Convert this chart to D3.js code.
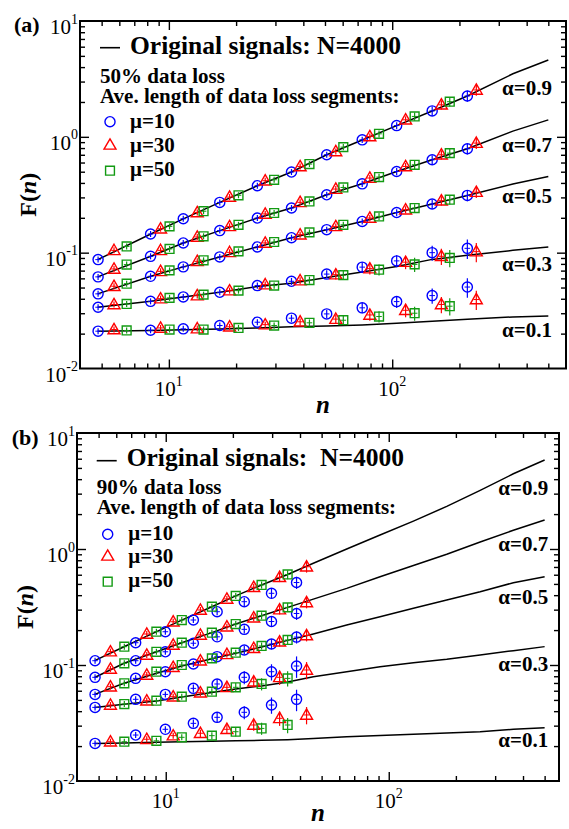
<!DOCTYPE html>
<html><head><meta charset="utf-8">
<script src="https://cdn.jsdelivr.net/npm/d3@7"></script>
<style>
body{margin:0;background:#fff;}
svg text{font-family:"Liberation Serif","Times New Roman",serif;}
</style></head><body>
<svg id="c" width="569" height="829"></svg>
<script>
// ---------- labels ----------
const alphaLabels = ["α=0.9","α=0.7","α=0.5","α=0.3","α=0.1"];
const muLabels = ["μ=10","μ=30","μ=50"];
const xMajorTicks = [10, 100];
const xMajorExp = ["1","2"];
const yMajorTicks = [0.01, 0.1, 1, 10];
const yMajorExp = ["-2","-1","0","1"];

// ---------- panel (a): 50% data loss ----------
const nA10 = [4.82, 8.28, 11.6, 16.9, 24.9, 35.4, 50.9, 73.4, 104.7, 151, 217];
const nA30 = [5.68, 9.18, 13.4, 18.7, 27.0, 38.7, 55.9, 79.4, 114.8, 166, 238];
const nA50 = [6.47, 10.07, 14.3, 20.5, 29.6, 42.6, 60.4, 87.3, 126, 181];

const FA10_09 = [0.0871, 0.1449, 0.1963, 0.2716, 0.3784, 0.4966, 0.700, 0.942, 1.251, 1.675, 2.253];
const FA10_07 = [0.0618, 0.093, 0.1213, 0.155, 0.199, 0.243, 0.316, 0.393, 0.502, 0.634, 0.789];
const FA10_05 = [0.0441, 0.0625, 0.0754, 0.0919, 0.112, 0.1346, 0.158, 0.186, 0.222, 0.263, 0.312];
const FA10_03 = [0.0338, 0.038, 0.0415, 0.0455, 0.052, 0.0566, 0.0653, 0.075, 0.0849, 0.100, 0.109];
const FA10_01 = [0.0210, 0.0214, 0.0220, 0.0235, 0.0251, 0.0272, 0.0296, 0.0334, 0.0378, 0.0426, 0.0505];

const FA30_09 = [0.1047, 0.161, 0.222, 0.302, 0.418, 0.555, 0.747, 1.006, 1.403, 1.89, 2.54];
const FA30_07 = [0.0723, 0.1047, 0.1366, 0.1685, 0.216, 0.272, 0.354, 0.441, 0.555, 0.700, 0.883];
const FA30_05 = [0.0513, 0.069, 0.0842, 0.1006, 0.1213, 0.143, 0.1685, 0.199, 0.235, 0.281, 0.333];
const FA30_03 = [0.0357, 0.0401, 0.0426, 0.047, 0.053, 0.0574, 0.0646, 0.0728, 0.0828, 0.093, 0.102];
const FA30_01 = [0.0217, 0.0224, 0.0221, 0.0229, 0.0239, 0.0253, 0.0267, 0.029, 0.0318, 0.0357, 0.0394];

const FA50_09 = [0.1132, 0.1686, 0.228, 0.313, 0.426, 0.582, 0.815, 1.062, 1.50, 2.01];
const FA50_07 = [0.0789, 0.1077, 0.1384, 0.174, 0.220, 0.2767, 0.3654, 0.4497, 0.574, 0.723];
const FA50_05 = [0.054, 0.0703, 0.0859, 0.1026, 0.1236, 0.1496, 0.174, 0.2055, 0.2426, 0.2864];
const FA50_03 = [0.0361, 0.0407, 0.0434, 0.047, 0.052, 0.058, 0.064, 0.0713, 0.0792, 0.090];
const FA50_01 = [0.0213, 0.0217, 0.0217, 0.0224, 0.0235, 0.0248, 0.0261, 0.0281, 0.030, 0.0345];

// relative error bars (upper rows alpha 0.9-0.5, lower rows alpha 0.3-0.1)
const errA10_hi = [0.02,0.02,0.03,0.03,0.04,0.04,0.05,0.06,0.07,0.09,0.11];
const errA10_lo = [0.02,0.03,0.04,0.05,0.06,0.07,0.08,0.10,0.12,0.15,0.19];
const errA30_hi = [0.02,0.02,0.03,0.03,0.04,0.04,0.05,0.06,0.07,0.09,0.11];
const errA30_lo = [0.02,0.03,0.04,0.05,0.06,0.07,0.09,0.11,0.13,0.16,0.19];
const errA50_hi = [0.02,0.02,0.03,0.03,0.04,0.05,0.06,0.07,0.08,0.09];
const errA50_lo = [0.02,0.03,0.04,0.05,0.06,0.07,0.09,0.11,0.14,0.17];

// original signals (N=4000), panel (a)
const lineA_n  = [4.8, 8.3, 11.6, 16.9, 24.9, 35.4, 50.9, 73.4, 104.7, 151, 217, 347, 500];
const lineA_09 = [0.087, 0.145, 0.196, 0.272, 0.378, 0.497, 0.70, 0.94, 1.25, 1.67, 2.25, 3.5, 4.6];
const lineA_07 = [0.0618, 0.093, 0.121, 0.155, 0.199, 0.243, 0.316, 0.393, 0.502, 0.634, 0.789, 1.12, 1.40];
const lineA_05 = [0.0441, 0.0625, 0.0754, 0.0919, 0.112, 0.1346, 0.158, 0.186, 0.222, 0.263, 0.312, 0.391, 0.455];
const lineA_03 = [0.0338, 0.038, 0.0415, 0.0455, 0.051, 0.0545, 0.061, 0.068, 0.076, 0.0875, 0.095, 0.1047, 0.112];
const lineA_01 = [0.021, 0.0213, 0.0216, 0.0219, 0.0224, 0.0229, 0.0233, 0.0238, 0.0246, 0.0256, 0.0266, 0.0279, 0.0284];

// ---------- panel (b): 90% data loss ----------
const nB10 = [4.82, 7.33, 9.96, 13.3, 17.0, 22.5, 29.8, 38.6];
const nB30 = [5.65, 8.22, 10.8, 14.3, 18.8, 24.8, 32.4, 42.8];
const nB50 = [6.52, 9.08, 11.8, 16.1, 20.6, 26.9, 35.2];

const FB10_09 = [0.1089, 0.1556, 0.1935, 0.2443, 0.288, 0.3513, 0.415, 0.514];
const FB10_07 = [0.0783, 0.1089, 0.130, 0.154, 0.175, 0.203, 0.237, 0.278];
const FB10_05 = [0.0558, 0.0767, 0.0875, 0.102, 0.118, 0.1347, 0.1518, 0.174];
const FB10_03 = [0.0431, 0.0506, 0.0558, 0.0629, 0.0686, 0.0783, 0.0875, 0.098];
const FB10_01 = [0.0211, 0.0249, 0.0279, 0.0314, 0.0354, 0.0391, 0.0452, 0.0506];

const FB30_09 = [0.1303, 0.185, 0.236, 0.298, 0.371, 0.468, 0.570, 0.703];
const FB30_07 = [0.0925, 0.122, 0.1486, 0.1814, 0.2138, 0.2557, 0.300, 0.346];
const FB30_05 = [0.065, 0.082, 0.0955, 0.1089, 0.1236, 0.1393, 0.1588, 0.1795];
const FB30_03 = [0.0452, 0.0492, 0.0533, 0.0577, 0.0642, 0.0718, 0.0783, 0.0906];
const FB30_01 = [0.0218, 0.0229, 0.0246, 0.0258, 0.0279, 0.0304, 0.0347, 0.0371];

const FB50_09 = [0.1438, 0.1936, 0.244, 0.318, 0.394, 0.490, 0.603];
const FB50_07 = [0.1035, 0.130, 0.1557, 0.19, 0.2254, 0.266, 0.314];
const FB50_05 = [0.0695, 0.0875, 0.100, 0.114, 0.1277, 0.146, 0.1644];
const FB50_03 = [0.0461, 0.0492, 0.0533, 0.0589, 0.0642, 0.0686, 0.0767];
const FB50_01 = [0.0218, 0.0222, 0.0238, 0.0246, 0.0266, 0.0284, 0.0304];

const errB10_hi = [0.02,0.03,0.04,0.05,0.07,0.08,0.10,0.12];
const errB10_lo = [0.02,0.04,0.06,0.08,0.10,0.13,0.16,0.21];
const errB30_hi = [0.02,0.03,0.04,0.05,0.06,0.07,0.09,0.11];
const errB30_lo = [0.02,0.04,0.05,0.07,0.09,0.11,0.14,0.17];
const errB50_hi = [0.02,0.03,0.04,0.05,0.06,0.07,0.09];
const errB50_lo = [0.02,0.04,0.05,0.07,0.09,0.12,0.15];

const lineB_n  = [4.8, 6.5, 9.1, 11.8, 16.1, 20.6, 26.9, 35.2, 45.9, 64.8, 91.4, 129, 182, 257, 362, 500];
const lineB_09 = [0.109, 0.1438, 0.194, 0.244, 0.318, 0.394, 0.49, 0.603, 0.753, 1.0, 1.32, 1.74, 2.33, 3.2, 4.45, 5.85];
const lineB_07 = [0.078, 0.1035, 0.13, 0.1557, 0.19, 0.2254, 0.266, 0.314, 0.37, 0.458, 0.577, 0.72, 0.90, 1.15, 1.45, 1.78];
const lineB_05 = [0.0558, 0.0695, 0.085, 0.098, 0.113, 0.126, 0.143, 0.163, 0.185, 0.221, 0.261, 0.308, 0.363, 0.428, 0.512, 0.577];
const lineB_03 = [0.0431, 0.0458, 0.049, 0.053, 0.058, 0.062, 0.066, 0.0715, 0.0793, 0.0875, 0.0966, 0.1047, 0.112, 0.122, 0.133, 0.144];
const lineB_01 = [0.0211, 0.0213, 0.0216, 0.0218, 0.022, 0.0222, 0.0224, 0.0227, 0.0232, 0.0241, 0.0247, 0.0253, 0.0259, 0.0266, 0.0279, 0.0288];

// ---------- drawing ----------
const svg = d3.select("#c");
const muColors = ["#0000ff", "#ff0000", "#129a12"];
const muShapes = [d3.symbolCircle, d3.symbolTriangle, d3.symbolSquare];
const muSizes = [80, 62, 78];

const panels = [
  { L:80, R:566, T:21, B:368.5, xDom:[4,600], tag:"(a)", tagX:14, tagY:32, nTitleY:413,
    lossText:"50% data loss", origText:"Original signals: N=4000",
    leg:{lineX:100, lineY:47.7, textX:130, textY:54, subX:100, sub1Y:82.5, sub2Y:103,
         mkX:110, mkY:[121.7,145.7,170.7], muX:130, muY:[127.5,151.5,176]},
    alphaX:502, alphaY:[95,152,203,271,337],
    lineN:lineA_n, lines:[lineA_09,lineA_07,lineA_05,lineA_03,lineA_01],
    series:[
      {n:nA10, F:[FA10_09,FA10_07,FA10_05,FA10_03,FA10_01], eHi:errA10_hi, eLo:errA10_lo},
      {n:nA30, F:[FA30_09,FA30_07,FA30_05,FA30_03,FA30_01], eHi:errA30_hi, eLo:errA30_lo},
      {n:nA50, F:[FA50_09,FA50_07,FA50_05,FA50_03,FA50_01], eHi:errA50_hi, eLo:errA50_lo}]},
  { L:77, R:559, T:433, B:781, xDom:[4,580], tag:"(b)", tagX:11.7, tagY:445, nTitleY:821,
    lossText:"90% data loss", origText:"Original signals:\u00a0 N=4000",
    leg:{lineX:96.7, lineY:460.7, textX:126.7, textY:466, subX:96.7, sub1Y:493.5, sub2Y:513.5,
         mkX:107.7, mkY:[534.3,556.7,581.7], muX:128.3, muY:[539.5,562.5,587]},
    alphaX:498.3, alphaY:[495,551,604,670.7,747],
    lineN:lineB_n, lines:[lineB_09,lineB_07,lineB_05,lineB_03,lineB_01],
    series:[
      {n:nB10, F:[FB10_09,FB10_07,FB10_05,FB10_03,FB10_01], eHi:errB10_hi, eLo:errB10_lo},
      {n:nB30, F:[FB30_09,FB30_07,FB30_05,FB30_03,FB30_01], eHi:errB30_hi, eLo:errB30_lo},
      {n:nB50, F:[FB50_09,FB50_07,FB50_05,FB50_03,FB50_01], eHi:errB50_hi, eLo:errB50_lo}]}
];

panels.forEach(P => {
  const x = d3.scaleLog().domain(P.xDom).range([P.L, P.R]);
  const y = d3.scaleLog().domain([0.01, 10]).range([P.B, P.T]);
  const g = svg.append("g");

  // original-signal curves
  const line = d3.line().x(d => x(d[0])).y(d => y(d[1]));
  P.lines.forEach(fs => {
    g.append("path").datum(d3.zip(P.lineN, fs)).attr("d", line)
      .attr("fill","none").attr("stroke","#000").attr("stroke-width",1.5);
  });

  // markers with error bars
  P.series.forEach((S, si) => {
    const col = muColors[si];
    const sym = d3.symbol().type(muShapes[si]).size(muSizes[si]);
    S.F.forEach((fs, ai) => {
      const errs = ai < 3 ? S.eHi : S.eLo;
      fs.forEach((f, i) => {
        const cx = x(S.n[i]), cy = y(f);
        const e = errs[i];
        const y1 = Math.min(y(f*(1+e)), cy-3), y2 = Math.max(y(f*(1-e)), cy+3);
        g.append("line").attr("x1",cx).attr("x2",cx).attr("y1",y1).attr("y2",y2)
          .attr("stroke",col).attr("stroke-width",1.2);
        g.append("line").attr("x1",cx-2.8).attr("x2",cx+2.8).attr("y1",cy).attr("y2",cy)
          .attr("stroke",col).attr("stroke-width",1);
        g.append("path").attr("d", sym()).attr("transform",`translate(${cx},${cy + (si===1?0.8:0)})`)
          .attr("fill","none").attr("stroke",col).attr("stroke-width",1.4);
      });
    });
  });

  // axes (ticks inward on all four sides)
  const isMajor = v => Math.abs(Math.log10(v) - Math.round(Math.log10(v))) < 1e-9;
  const xt = x.ticks().filter(v => v > P.xDom[0] && v < P.xDom[1]);
  const yt = y.ticks().filter(v => v > 0.01 && v < 10);
  const xMin = xt.filter(v => !isMajor(v)), xMaj = xt.filter(isMajor);
  const yMin = yt.filter(v => !isMajor(v)), yMaj = yt.filter(isMajor);
  const axes = [
    [d3.axisBottom(x), `translate(0,${P.B})`, xMin, xMaj],
    [d3.axisTop(x), `translate(0,${P.T})`, xMin, xMaj],
    [d3.axisLeft(y), `translate(${P.L},0)`, yMin, yMaj],
    [d3.axisRight(y), `translate(${P.R},0)`, yMin, yMaj]];
  axes.forEach(([ax, tr, mn, mj]) => {
    [[mn, -5], [mj, -9]].forEach(([vals, sz]) => {
      const a = g.append("g").attr("transform", tr)
        .call(ax.tickValues(vals).tickSize(sz).tickFormat(""));
      a.select(".domain").remove();
      a.selectAll(".tick line").attr("stroke","#000").attr("stroke-width",1.4);
    });
  });
  g.append("rect").attr("x",P.L).attr("y",P.T).attr("width",P.R-P.L).attr("height",P.B-P.T)
    .attr("fill","none").attr("stroke","#000").attr("stroke-width",2);

  // tick labels
  xMajorTicks.forEach((v, i) => {
    const t = g.append("text").attr("x", x(v)).attr("y", P.B + 27)
      .attr("text-anchor","middle").attr("font-size",21);
    t.append("tspan").text("10");
    t.append("tspan").attr("dy",-10).attr("font-size",14).text(xMajorExp[i]);
  });
  yMajorTicks.forEach((v, i) => {
    const t = g.append("text").attr("x", P.L - 2).attr("y", y(v) + 13)
      .attr("text-anchor","end").attr("font-size",21);
    t.append("tspan").text("10");
    t.append("tspan").attr("dy",-10.5).attr("font-size",14).text(yMajorExp[i]);
  });

  // axis titles
  const cy = (P.T + P.B) / 2;
  const yt2 = g.append("text").attr("transform",`translate(${P.L-44},${cy}) rotate(-90)`)
    .attr("text-anchor","middle").attr("font-size",24).attr("font-weight","bold");
  yt2.append("tspan").text("F(");
  yt2.append("tspan").attr("font-style","italic").text("n");
  yt2.append("tspan").text(")");
  g.append("text").attr("x",(P.L+P.R)/2).attr("y",P.nTitleY).attr("text-anchor","middle")
    .attr("font-size",25).attr("font-weight","bold").attr("font-style","italic").text("n");

  // panel tag
  g.append("text").attr("x",P.tagX).attr("y",P.tagY).attr("font-size",22)
    .attr("font-weight","bold").text(P.tag);

  // legend
  const Lg = P.leg;
  g.append("line").attr("x1",Lg.lineX).attr("x2",Lg.lineX+20).attr("y1",Lg.lineY).attr("y2",Lg.lineY)
    .attr("stroke","#000").attr("stroke-width",1.6);
  g.append("text").attr("x",Lg.textX).attr("y",Lg.textY).attr("font-size",25.5)
    .attr("font-weight","bold").text(P.origText);
  g.append("text").attr("x",Lg.subX).attr("y",Lg.sub1Y).attr("font-size",21)
    .attr("font-weight","bold").text(P.lossText);
  g.append("text").attr("x",Lg.subX).attr("y",Lg.sub2Y).attr("font-size",21)
    .attr("font-weight","bold").text("Ave. length of data loss segments:");
  muLabels.forEach((lab, si) => {
    g.append("path").attr("d", d3.symbol().type(muShapes[si]).size(muSizes[si])())
      .attr("transform",`translate(${Lg.mkX},${Lg.mkY[si]})`)
      .attr("fill","none").attr("stroke",muColors[si]).attr("stroke-width",1.4);
    g.append("text").attr("x",Lg.muX).attr("y",Lg.muY[si]).attr("font-size",21)
      .attr("font-weight","bold").text(lab);
  });

  // alpha labels
  alphaLabels.forEach((lab, ai) => {
    g.append("text").attr("x",P.alphaX).attr("y",P.alphaY[ai]).attr("font-size",21)
      .attr("font-weight","bold").text(lab);
  });
});
</script>
</body></html>
